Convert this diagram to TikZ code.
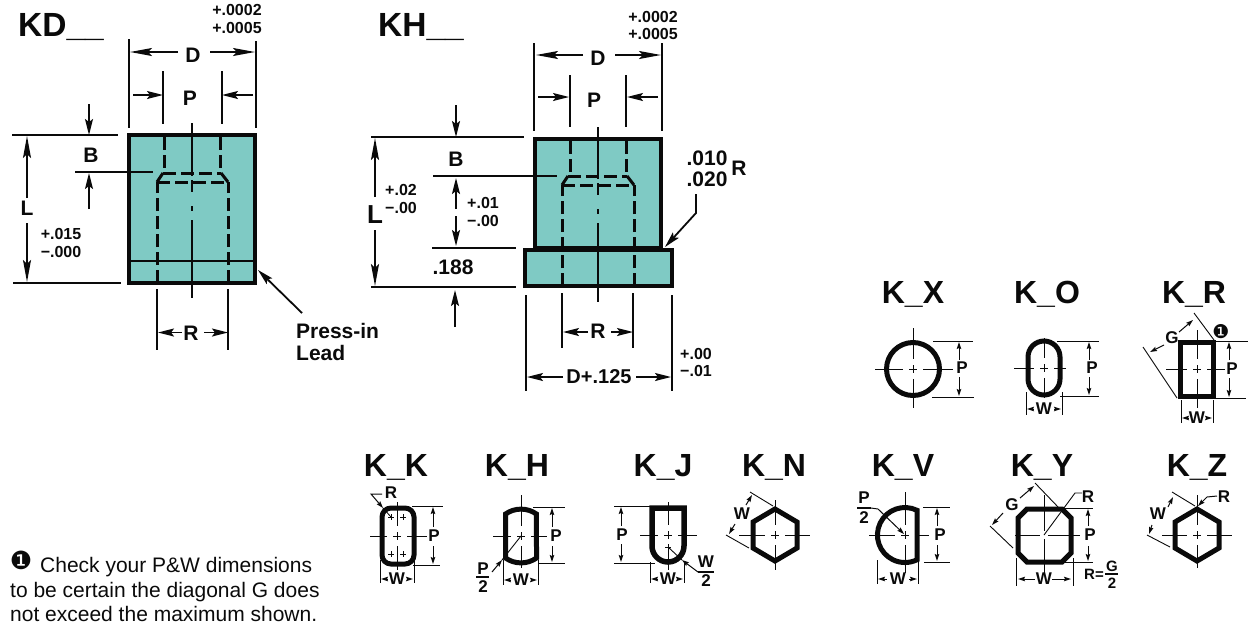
\documentclass[tikz,border=0pt]{standalone}
\usepackage{fontspec}
\setmainfont{Liberation Sans}
\newfontfamily\dingfont{DejaVu Sans}
\usetikzlibrary{arrows.meta}
\definecolor{bodyteal}{HTML}{7FCAC4}
\definecolor{ink}{HTML}{0A0A0A}
\newcommand{\fs}[1]{\fontsize{#1}{#1}\selectfont}
\newcommand{\axescross}[6]{%
  \draw[axisline] (#3,#2)--({#1-10},#2) ({#1-4},#2)--({#1+4},#2) ({#1+10},#2)--(#4,#2)
    (#1,#5)--(#1,{#2-10}) (#1,{#2-4})--(#1,{#2+4}) (#1,{#2+10})--(#1,#6);}
\tikzset{
  every node/.style={inner sep=0pt,text=ink},
  body/.style={draw=ink,fill=bodyteal,line width=4.8pt,miter limit=10},
  hiddenedge/.style={draw=ink,line width=3pt,dash pattern=on 13pt off 5pt},
  hiddenbit/.style={draw=ink,line width=3pt},
  centre/.style={draw=ink,line width=1.6pt},
  ext/.style={draw=ink,line width=1.4pt},
  ba/.style={draw=ink,line width=1.8pt,-{Stealth[length=16pt,width=8pt,inset=3pt]}},
  bal/.style={draw=ink,line width=1.8pt,-{Stealth[length=22pt,width=8pt,inset=4pt]}},
  sa/.style={draw=ink,line width=1pt,-{Stealth[length=7pt,width=4.5pt,inset=1pt]}},
  axisline/.style={draw=ink,line width=.8pt},
  thinext/.style={draw=ink,line width=.9pt},
  prof/.style={draw=ink,line width=5pt,line join=miter},
  dimbold/.style={font=\bfseries\fs{21}},
  tol/.style={font=\bfseries\fs{16}},
  small/.style={font=\bfseries\fs{17}},
  head/.style={font=\bfseries\fs{33.5},anchor=base west},
  kname/.style={font=\bfseries\fs{32},anchor=base},
  note/.style={font=\fs{21},anchor=base west},
}
\begin{document}
\begin{tikzpicture}[x=1pt,y=-1pt]
\useasboundingbox (0,0) rectangle (1250,625);
% ---------- KD ----------
\node[head] (kd) at (18,36) {KD\_\_};
\draw[body] (129,135) rectangle (255,283);
\draw[draw=ink,line width=2.6pt] (129,261)--(255,261);
\draw[hiddenedge] (164,137)--(164,170) (220,137)--(220,170);
\draw[hiddenedge] (157,283)--(157,182) (228,283)--(228,182);
\draw[hiddenbit] (157,182)--(163,173) (228,182)--(221,173);
\draw[hiddenedge] (163,173)--(221,173) (157,182)--(228,182);
\draw[centre] (192,123)--(192,176) (192,180)--(192,192) (192,206)--(192,211) (192,220)--(192,298);
\draw[ext] (129,39)--(129,128) (256,41)--(256,128) (163,71)--(163,124) (222,71)--(222,124);
\draw[ext] (12,135)--(118,135) (13,283)--(121,283);
\draw[ext] (75,172)--(153,172);
\draw[ext] (157,289)--(157,350) (228,289)--(228,350);
\node[dimbold] (kdD) at (193,55) {D};
\node[dimbold] (kdP) at (190,98) {P};
\node[dimbold] (kdB) at (91,155) {B};
\node[dimbold] (kdL) at (27,208) {L};
\node[dimbold] (kdR) at (191,333) {R};
\node[tol] (kdt1) at (237,10) {+.0002};
\node[tol] (kdt2) at (237,28) {+.0005};
\node[tol] (kdt3) at (61,234) {+.015};
\node[tol] (kdt4) at (61,252) {−.000};
\draw[bal] (178,52)--(130,52);
\draw[bal] (210,52)--(255,52);
\draw[ba] (133,95)--(163,95);
\draw[ba] (253,95)--(222,95);
\draw[ba] (89,104)--(89,135);
\draw[ba] (89,209)--(89,173);
\draw[bal] (27,198)--(27,136);
\draw[bal] (27,223)--(27,282);
\draw[ba] (182,332.5)--(158,332.5);
\draw[ba] (204,332.5)--(228,332.5);
\draw[ba] (302,313)--(258,270);
\node[font=\bfseries\fs{21},anchor=base west] (press1) at (296,338) {Press-in};
\node[font=\bfseries\fs{21},anchor=base west] (press2) at (296,360) {Lead};
% ---------- KH ----------
\node[head] (kh) at (378,36) {KH\_\_};
\draw[body] (535,139) rectangle (661,248);
\draw[body] (525,250) rectangle (672,286);
\draw[hiddenedge] (570,141)--(570,173) (626,141)--(626,173);
\draw[hiddenedge] (562,286)--(562,185) (634,286)--(634,185);
\draw[hiddenbit] (562,185)--(568,176) (634,185)--(627,176);
\draw[hiddenedge] (568,176)--(627,176) (562,185)--(634,185);
\draw[centre] (598,127)--(598,179) (598,183)--(598,195) (598,209)--(598,214) (598,223)--(598,302);
\draw[ext] (534,43)--(534,131) (662,43)--(662,131) (570,75)--(570,127) (626,75)--(626,127);
\draw[ext] (371,137)--(524,137) (371,287)--(516,287) (433,176)--(557,176) (432,248)--(516,248);
\draw[ext] (562,293)--(562,348) (633,293)--(633,348);
\draw[ext] (526,295)--(526,391) (672,295)--(672,391);
\node[dimbold] (khD) at (598,58) {D};
\node[dimbold] (khP) at (594,100) {P};
\node[dimbold] (khB) at (456,159) {B};
\node[font=\bfseries\fs{26}] (khL) at (375,215) {L};
\node[dimbold] (khR) at (598,331) {R};
\node[dimbold] (kh188) at (453,267) {.188};
\node[font=\bfseries\fs{20}] (khd125) at (599,377) {D+.125};
\node[dimbold] (khr1) at (707,158) {.010};
\node[dimbold] (khr2) at (707,179) {.020};
\node[dimbold] (khr3) at (739,168) {R};
\node[tol] (kht1) at (653,17) {+.0002};
\node[tol] (kht2) at (653,34) {+.0005};
\node[tol] (kht3) at (401,190) {+.02};
\node[tol] (kht4) at (401,208) {−.00};
\node[tol] (kht5) at (483,203) {+.01};
\node[tol] (kht6) at (483,221) {−.00};
\node[tol] (kht7) at (696,354) {+.00};
\node[tol] (kht8) at (696,371) {−.01};
\draw[bal] (583,55)--(536,55);
\draw[bal] (615,55)--(661,55);
\draw[ba] (538,97)--(569,97);
\draw[ba] (658,97)--(627,97);
\draw[ba] (456,105)--(456,137);
\draw[bal] (375,197)--(375,138);
\draw[bal] (375,230)--(375,286);
\draw[ba] (456,209)--(456,178);
\draw[ba] (456,216)--(456,246);
\draw[ba] (455,327)--(455,290);
\draw[ba] (588,332)--(563,332);
\draw[ba] (611,332)--(633,332);
\draw[ba] (563,377)--(527,377);
\draw[ba] (636,377)--(671,377);
\draw[ba] (696,194)--(696,213)--(665,247);
% ---------- K_X ----------
\node[kname] (kx) at (913,303) {K\_X};
\axescross{913}{369}{875}{953}{328}{408}
\draw[prof] (913,369) circle[radius=26.5pt];
\draw[thinext] (933,341)--(973,341) (932,397)--(974,397);
\node[small] (kxP) at (962,368) {P};
\draw[sa] (959,360)--(959,342);
\draw[sa] (959,377)--(959,396);
% ---------- K_O ----------
\node[kname] (ko) at (1047,303) {K\_O};
\axescross{1044}{368}{1014}{1066}{338}{398}
\draw[prof] (1028,357) arc[start angle=180,end angle=0,radius=16pt] -- (1060,379) arc[start angle=0,end angle=-180,radius=16pt] -- cycle;
\draw[thinext] (1057,341)--(1099,341) (1060,396)--(1099,396);
\draw[thinext] (1026,392)--(1026,415) (1062,392)--(1062,415);
\node[small] (koP) at (1092,368) {P};
\node[small] (koW) at (1044,409) {W};
\draw[sa] (1089,360)--(1089,342);
\draw[sa] (1089,377)--(1089,395);
\draw[sa] (1034,409)--(1027,409);
\draw[sa] (1054,409)--(1061,409);
% ---------- K_R ----------
\node[kname] (kr) at (1194,303) {K\_R};
\axescross{1197}{369}{1166}{1225}{330}{408}
\draw[draw=ink,line width=5.5pt] (1180.5,342.5) rectangle (1213.5,396.5);
\draw[thinext] (1194,313)--(1214,340) (1143,347)--(1177,398);
\draw[thinext] (1216,341)--(1248,341) (1216,398)--(1246,398);
\draw[thinext] (1181,400)--(1181,423) (1213,400)--(1213,423);
\node[small] (krG) at (1172,338) {G};
\node[small] (krP) at (1232,369) {P};
\node[small] (krW) at (1197,418) {W};
\node[font=\dingfont\fs{19}] (krn) at (1221,332) {❶};
\draw[sa] (1179,332)--(1193,320);
\draw[sa] (1164,345)--(1150,352);
\draw[sa] (1229,360)--(1229,342);
\draw[sa] (1229,378)--(1229,397);
\draw[sa] (1188,418)--(1182,418);
\draw[sa] (1206,418)--(1212,418);
% ---------- K_K ----------
\node[kname] (kk) at (396,476) {K\_K};
\axescross{397}{536}{370}{427}{502}{570}
\draw[prof,rounded corners=9pt] (382,508) rectangle (414,564);
\draw[axisline] (388,517)--(394,517) (391,514)--(391,520) (400,517)--(406,517) (403,514)--(403,520)
  (388,554)--(394,554) (391,551)--(391,557) (400,554)--(406,554) (403,551)--(403,557);
\node[small] (kkR) at (391,493) {R};
\draw[sa] (382,494)--(371,494)--(383,508);
\draw[axisline] (383,508)--(391,517);
\draw[thinext] (412,506)--(443,506) (413,565)--(440,565);
\draw[thinext] (380,560)--(380,583) (414,560)--(414,583);
\node[small] (kkP) at (434,536) {P};
\node[small] (kkW) at (397,579) {W};
\draw[sa] (433,527)--(433,507);
\draw[sa] (433,546)--(433,564);
\draw[sa] (387,579)--(381,579);
\draw[sa] (407,579)--(413,579);
% ---------- K_H ----------
\node[kname] (kh2) at (517,476) {K\_H};
\axescross{521}{536}{493}{547}{495}{568}
\draw[prof] (505.5,514) arc[start angle=125,end angle=55,radius=27pt] -- (536.5,558) arc[start angle=-55,end angle=-125,radius=27pt] -- cycle;
\draw[thinext] (533,507)--(565,507) (538,563)--(565,563);
\draw[thinext] (503,560)--(503,585) (538,560)--(538,585);
\node[small] (khhP) at (556,536) {P};
\node[small] (khhW) at (521,580) {W};
\draw[sa] (552,527)--(552,508);
\draw[sa] (552,546)--(552,562);
\draw[sa] (511,580)--(504,580);
\draw[sa] (531,580)--(537,580);
\draw[thinext] (521,536)--(502,560);
\draw[sa] (492,572)--(502,560);
\node[small] (khhf1) at (483,569) {P};
\draw[draw=ink,line width=1.8pt] (476,577)--(489,577);
\node[small] (khhf2) at (483,587) {2};
% ---------- K_J ----------
\node[kname] (kj) at (663,476) {K\_J};
\axescross{668}{535}{640}{697}{502}{570}
\draw[axisline] (665,547)--(671,547) (668,544)--(668,550);
\draw[prof,line width=5.5pt] (652,508) -- (684,508) -- (684,546) arc[start angle=0,end angle=-180,radius=16pt] -- cycle;
\draw[thinext] (614,506)--(650,506) (614,563)--(655,563);
\draw[thinext] (650,562)--(650,583) (684,562)--(684,583);
\node[small] (kjP) at (622,535) {P};
\node[small] (kjW) at (668,579) {W};
\draw[sa] (621,526)--(621,507);
\draw[sa] (621,544)--(621,562);
\draw[sa] (658,579)--(651,579);
\draw[sa] (678,579)--(683,579);
\draw[thinext] (668,547)--(682,560);
\draw[sa] (698,572)--(682,560);
\draw[draw=ink,line width=1.8pt] (698,572)--(714,572);
\node[small] (kjf1) at (706,562) {W};
\node[small] (kjf2) at (706,581) {2};
% ---------- K_N ----------
\node[kname] (kn) at (774,476) {K\_N};
\axescross{775}{535}{739}{810}{500}{570}
\draw[prof] (775,509)--(797,522)--(797,548)--(775,561)--(753,548)--(753,522)--cycle;
\draw[thinext] (750,492)--(773,506) (726,535)--(749,548);
\node[small] (knW) at (742,514) {W};
\draw[sa] (746,505)--(752,495);
\draw[sa] (735,524)--(729,534);
% ---------- K_V ----------
\node[kname] (kv) at (903,476) {K\_V};
\axescross{905}{535}{869}{929}{492}{573}
\draw[prof] (917,510.3) arc[start angle=64,end angle=296,radius=27.5pt] -- cycle;
\draw[thinext] (923,507)--(950,507) (924,562)--(950,562);
\draw[thinext] (877,560)--(877,584) (918,560)--(918,584);
\node[small] (kvP) at (940,535) {P};
\node[small] (kvW) at (898,579) {W};
\draw[sa] (937,526)--(937,508);
\draw[sa] (937,545)--(937,561);
\draw[sa] (887,579)--(878,579);
\draw[sa] (909,579)--(917,579);
\node[small] (kvf1) at (864,498) {P};
\draw[draw=ink,line width=1.8pt] (857,508)--(871,508);
\node[small] (kvf2) at (864,518) {2};
\draw[sa] (871,508)--(878,509)--(904,534);
% ---------- K_Y ----------
\node[kname] (ky) at (1042,476) {K\_Y};
\draw[axisline] (1015,535)--(1040,535) (1048,535)--(1080,535) (1044,495)--(1044,531) (1044,539)--(1044,575);
\draw[prof] (1027,509)--(1062,509)--(1071,518)--(1071,553)--(1062,562)--(1027,562)--(1018,553)--(1018,518)--cycle;
\draw[thinext] (1035,483)--(1059,508) (990,526)--(1013,548);
\draw[thinext] (1044,535)--(1075,493)--(1082,493);
\draw[thinext] (1063,508)--(1093,508) (1065,562)--(1093,562);
\draw[thinext] (1016,558)--(1016,586) (1073,558)--(1073,586);
\node[small] (kyG) at (1012,505) {G};
\node[small] (kyR) at (1088,497) {R};
\node[small] (kyP) at (1090,535) {P};
\node[small] (kyW) at (1044,579) {W};
\draw[sa] (1020,498)--(1034,486);
\draw[sa] (1003,513)--(992,525);
\draw[sa] (1088,526)--(1088,509);
\draw[sa] (1088,546)--(1088,561);
\draw[sa] (1035,579)--(1018,579);
\draw[sa] (1052,579)--(1071,579);
\node[font=\bfseries\fs{15}] (kyr) at (1094,574) {R=};
\node[font=\bfseries\fs{15}] (kyg) at (1112,566) {G};
\draw[draw=ink,line width=1.6pt] (1105,574)--(1118,574);
\node[font=\bfseries\fs{15}] (ky2) at (1112,583) {2};
% ---------- K_Z ----------
\node[kname] (kz) at (1197,476) {K\_Z};
\axescross{1197}{535}{1162}{1232}{495}{568}
\draw[prof] (1197,509)--(1219,522)--(1219,548)--(1197,561)--(1175,548)--(1175,522)--cycle;
\draw[thinext] (1172,492)--(1195,506) (1147,535)--(1170,547);
\node[small] (kzW) at (1158,514) {W};
\node[small] (kzR) at (1224,497) {R};
\draw[sa] (1168,507)--(1173,497);
\draw[sa] (1152,525)--(1149,534);
\draw[sa] (1217,496)--(1207,497)--(1198,506);
% ---------- note ----------
\node[font=\dingfont\fs{25}] (noten) at (21,560) {❶};
\node[note] (note1) at (40,572) {Check your P\&W dimensions};
\node[note] (note2) at (10,597) {to be certain the diagonal G does};
\node[note] (note3) at (10,621) {not exceed the maximum shown.};
\end{tikzpicture}
\end{document}
